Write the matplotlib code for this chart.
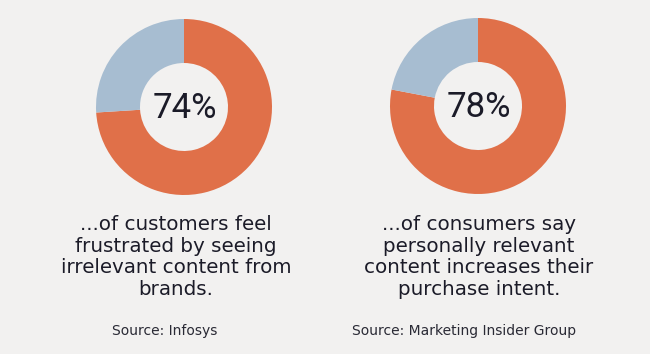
import matplotlib
matplotlib.use("Agg")
import matplotlib.pyplot as plt

# Data
percents = [74, 78]
captions = [
    "...of customers feel\nfrustrated by seeing\nirrelevant content from\nbrands.",
    "...of consumers say\npersonally relevant\ncontent increases their\npurchase intent.",
]
sources = ["Source: Infosys", "Source: Marketing Insider Group"]

BG = "#F2F1F0"
ORANGE = "#E07049"
BLUE = "#A7BDD1"
TEXT = "#1B1B28"

W, H = 650, 354
plt.rcParams['font.family'] = ['Roboto', 'DejaVu Sans']
fig = plt.figure(figsize=(W / 100, H / 100), dpi=100, facecolor=BG)

centers = [(184, 107), (478, 106)]
cap_x = [176, 479]
src_x = [165, 464]
R = 88

for pct, cap, src, (cx, cy), capx, srcx in zip(percents, captions, sources, centers, cap_x, src_x):
    ax = fig.add_axes([(cx - R) / W, 1 - (cy + R) / H, 2 * R / W, 2 * R / H])
    ax.set_facecolor(BG)
    ax.pie([pct, 100 - pct], colors=[ORANGE, BLUE], startangle=90, counterclock=False,
           radius=1, wedgeprops=dict(width=0.5, edgecolor='none'))
    ax.set_xlim(-1, 1)
    ax.set_ylim(-1, 1)
    ax.set_aspect('equal')
    ax.axis('off')
    ax.text(0.01, -0.02, f"{pct}%", ha='center', va='center', fontsize=25, color=TEXT,
            family=['Roboto'])
    fig.text(capx / W, 1 - 257 / H, cap, ha='center', va='center', fontsize=14.3,
             color=TEXT, linespacing=1.16, family=['DejaVu Sans'])
    fig.text(srcx / W, 1 - 331 / H, src, ha='center', va='center', fontsize=10,
             color="#2a2a35", family=['DejaVu Sans'])

fig.savefig("out.png", dpi=100, facecolor=BG)
